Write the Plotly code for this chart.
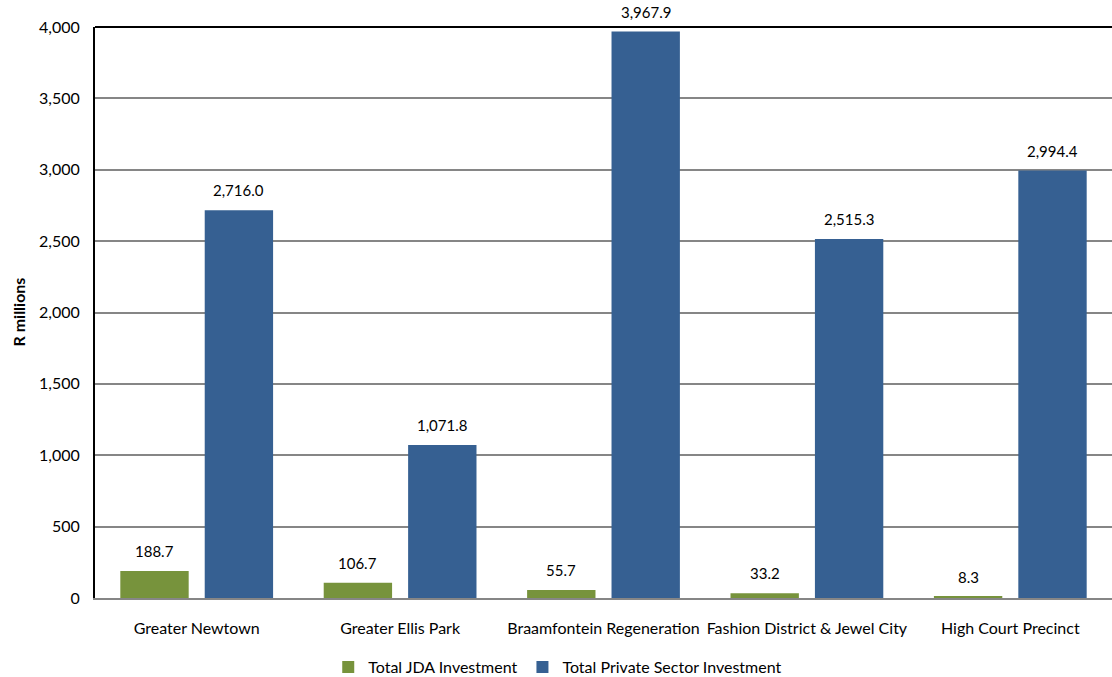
import plotly.graph_objects as go

categories = ["Greater Newtown", "Greater Ellis Park", "Braamfontein Regeneration",
              "Fashion District & Jewel City", "High Court Precinct"]
jda = [188.7, 106.7, 55.7, 33.2, 8.3]
private = [2716.0, 1071.8, 3967.9, 2515.3, 2994.4]
y_ticks = [0, 500, 1000, 1500, 2000, 2500, 3000, 3500, 4000]

FONT = "Lato, Open Sans, sans-serif"
BARGAP = 0.17
OFFSET = (1 - BARGAP) / 4  # centre of each bar slot relative to category centre

fig = go.Figure()
fig.add_trace(go.Bar(
    x=categories, y=jda, name="Total JDA Investment",
    marker=dict(color="#77933C", line=dict(width=0)),
))
fig.add_trace(go.Bar(
    x=categories, y=private, name="Total Private Sector Investment",
    marker=dict(color="#366092", line=dict(width=0)),
))

annotations = []
for i, (a, b) in enumerate(zip(jda, private)):
    for off, v in ((-OFFSET, a), (OFFSET, b)):
        annotations.append(dict(x=i + off, y=v, xref="x", yref="y", text=f"{v:,.1f}",
                                showarrow=False, yanchor="bottom", yshift=9,
                                font=dict(size=15, color="black", family=FONT)))
annotations.append(dict(text="<b>R millions</b>", textangle=-90, xref="paper", yref="paper",
                        x=0, xshift=-77, xanchor="center", y=0.5, yanchor="middle",
                        showarrow=False, font=dict(size=16, family=FONT)))

fig.update_layout(
    width=1112, height=677,
    margin=dict(l=95, r=0, t=27, b=79, autoexpand=False),
    paper_bgcolor="white", plot_bgcolor="white",
    barmode="group", bargap=BARGAP, bargroupgap=0.19,
    font=dict(family=FONT, size=16, color="black"),
    showlegend=True,
    legend=dict(orientation="h", x=0.455, xanchor="center",
                y=-0.121, yanchor="middle", font=dict(size=16),
                traceorder="normal"),
    xaxis=dict(showgrid=False, showline=True, linecolor="#868686", linewidth=2,
               ticks="outside", ticklen=15, tickcolor="rgba(0,0,0,0)",
               tickangle=0, tickfont=dict(size=16)),
    yaxis=dict(range=[0, 4000], tickvals=y_ticks, tickformat=",",
               showgrid=True, gridcolor="#868686", gridwidth=1.5,
               showline=True, linecolor="black", linewidth=2,
               zeroline=False, ticklabelstandoff=10, tickfont=dict(size=16)),
    annotations=annotations,
    shapes=[dict(type="line", xref="paper", yref="paper", x0=0, x1=1, y0=1, y1=1,
                 line=dict(color="black", width=2))],
)

fig.write_html("out.html")
